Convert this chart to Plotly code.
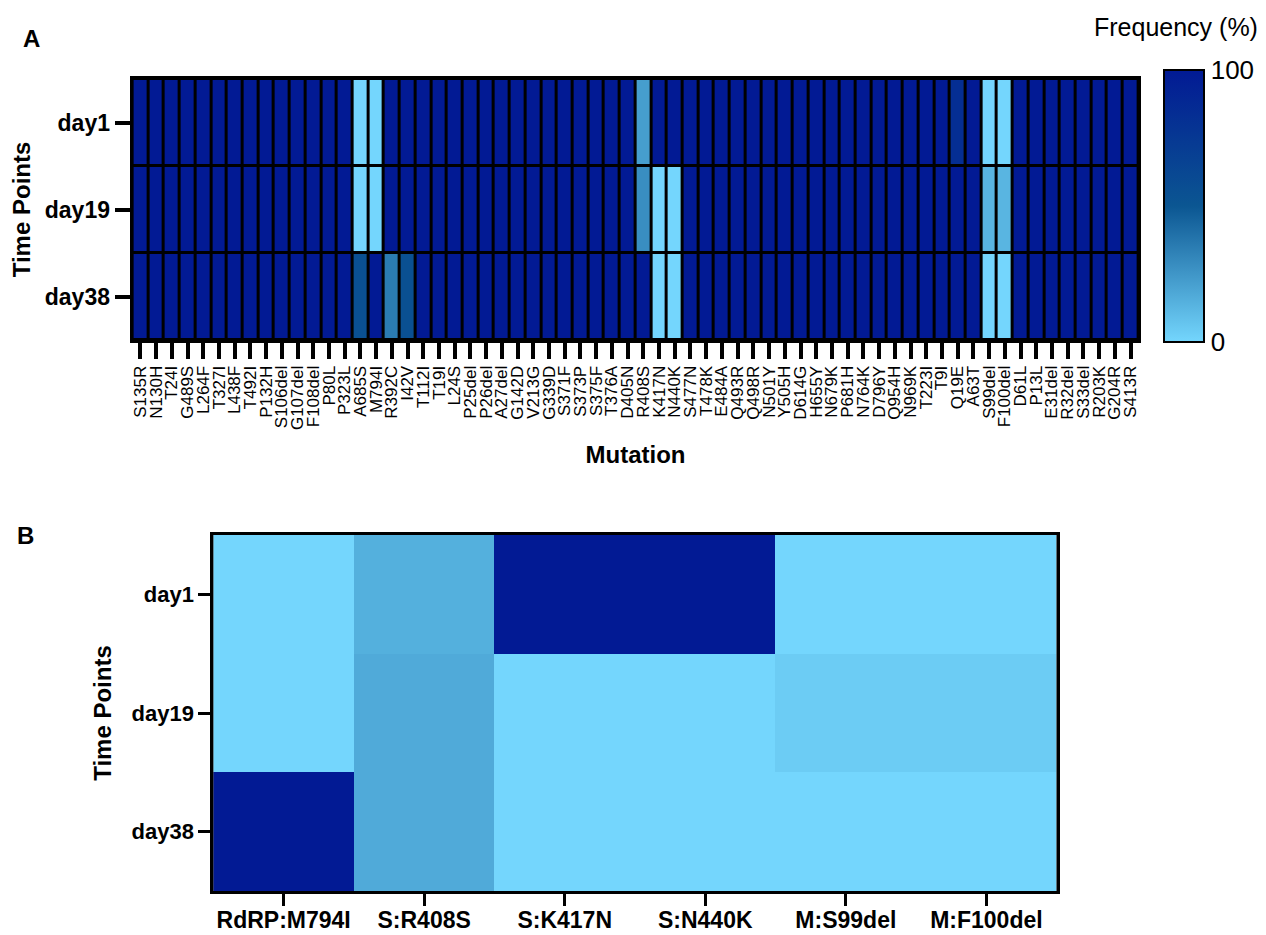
import plotly.graph_objects as go

# ---------------- Panel A data ----------------
mutations = [
    "S135R", "N130H", "T24I", "G489S", "L264F", "T327I", "L438F", "T492I", "P132H",
    "S106del", "G107del", "F108del", "P80L", "P323L", "A685S", "M794I", "R392C", "I42V",
    "T112I", "T19I", "L24S", "P25del", "P26del", "A27del", "G142D", "V213G", "G339D",
    "S371F", "S373P", "S375F", "T376A", "D405N", "R408S", "K417N", "N440K", "S477N",
    "T478K", "E484A", "Q493R", "Q498R", "N501Y", "Y505H", "D614G", "H655Y", "N679K",
    "P681H", "N764K", "D796Y", "Q954H", "N969K", "T223I", "T9I", "Q19E", "A63T",
    "S99del", "F100del", "D61L", "P13L", "E31del", "R32del", "S33del", "R203K", "G204R", "S413R",
]
days = ["day1", "day19", "day38"]

freq_day1 = [
    100, 100, 100, 100, 100, 100, 100, 100, 100,
    100, 100, 100, 100, 100, 0, 0, 100, 100,
    100, 100, 100, 100, 100, 100, 100, 100, 100,
    100, 100, 100, 100, 100, 22, 100, 100, 100,
    100, 100, 100, 100, 100, 100, 100, 100, 100,
    100, 100, 100, 100, 100, 100, 100, 83, 100,
    0, 0, 100, 100, 100, 100, 100, 100, 100, 100,
]
freq_day19 = [
    100, 100, 100, 100, 100, 100, 100, 100, 100,
    100, 100, 100, 100, 100, 0, 0, 100, 100,
    100, 100, 100, 100, 100, 100, 100, 100, 100,
    100, 100, 100, 100, 100, 28, 0, 0, 100,
    100, 100, 100, 100, 100, 100, 100, 100, 100,
    100, 100, 100, 100, 100, 100, 100, 100, 100,
    13, 13, 100, 100, 100, 100, 100, 100, 100, 100,
]
freq_day38 = [
    100, 100, 100, 100, 100, 100, 100, 100, 100,
    100, 100, 100, 100, 100, 55, 100, 35, 55,
    100, 100, 100, 100, 100, 100, 100, 100, 100,
    100, 100, 100, 100, 100, 100, 0, 0, 100,
    100, 100, 100, 100, 100, 100, 100, 100, 100,
    100, 100, 100, 100, 100, 100, 100, 100, 100,
    0, 0, 100, 100, 100, 100, 100, 100, 100, 100,
]

# ---------------- Panel B data ----------------
b_mutations = ["RdRP:M794I", "S:R408S", "S:K417N", "S:N440K", "M:S99del", "M:F100del"]
b_day1 = [0, 15, 100, 100, 0, 0]
b_day19 = [0, 17, 0, 0, 4, 4]
b_day38 = [100, 17, 0, 0, 0, 0]

colorscale = [[0.0, "#74d6fd"], [0.5, "#0b5692"], [1.0, "#021a94"]]

W, H = 1266, 935
FONT = "Arial, Liberation Sans, Helvetica, sans-serif"


def px_x(x):
    return x / W


def px_y(y):
    return 1 - y / H


fig = go.Figure()

fig.add_trace(go.Heatmap(
    x=mutations, y=days, z=[freq_day1, freq_day19, freq_day38],
    zmin=0, zmax=100, colorscale=colorscale, xgap=3, ygap=3,
    xaxis="x", yaxis="y",
    colorbar=dict(
        thickness=40, thicknessmode="pixels",
        len=272, lenmode="pixels",
        x=px_x(1166), xanchor="left", xpad=0,
        y=px_y(206), yanchor="middle", ypad=0,
        outlinewidth=2, outlinecolor="black",
        tickvals=[0, 100], ticktext=["0", "100"], ticks="",
        tickfont=dict(size=26, color="black", family=FONT),
    ),
))

fig.add_trace(go.Heatmap(
    x=b_mutations, y=days, z=[b_day1, b_day19, b_day38],
    zmin=0, zmax=100, colorscale=colorscale, showscale=False,
    xaxis="x2", yaxis="y2",
))

common_axis = dict(showline=True, mirror=True, linecolor="black", linewidth=3,
                   showgrid=False, zeroline=False, ticks="outside", tickcolor="black")

fig.update_layout(
    width=W, height=H,
    margin=dict(l=0, r=0, t=0, b=0),
    paper_bgcolor="white", plot_bgcolor="black",
    font=dict(family=FONT, color="black"),
    xaxis=dict(
        **common_axis, domain=[px_x(131), px_x(1140)], anchor="y",
        tickmode="array", tickvals=mutations, ticklen=16, tickwidth=4,
        tickangle=-90, tickfont=dict(size=17, family=FONT),
        title=dict(text="<b>Mutation</b>", font=dict(size=24), standoff=18),
    ),
    yaxis=dict(
        **common_axis, domain=[px_y(340), px_y(79)], anchor="x",
        autorange="reversed", ticklen=15, tickwidth=4,
        tickfont=dict(size=23, family=FONT, weight="bold"),
        title=dict(text="<b>Time Points</b>", font=dict(size=24), standoff=8),
    ),
    xaxis2=dict(
        **common_axis, domain=[px_x(212), px_x(1058)], anchor="y2",
        ticklen=12, tickwidth=3, ticklabelstandoff=-6,
        tickfont=dict(size=23, family=FONT, weight="bold"),
    ),
    yaxis2=dict(
        **common_axis, domain=[px_y(891), px_y(535)], anchor="x2",
        autorange="reversed", ticklen=12, tickwidth=3,
        tickfont=dict(size=22, family=FONT, weight="bold"),
        title=dict(text="<b>Time Points</b>", font=dict(size=24), standoff=14),
    ),
    annotations=[
        dict(text="<b>A</b>", x=px_x(30), y=px_y(38), xref="paper", yref="paper",
             showarrow=False, font=dict(size=24), xanchor="center", yanchor="middle"),
        dict(text="<b>B</b>", x=px_x(24), y=px_y(535), xref="paper", yref="paper",
             showarrow=False, font=dict(size=24), xanchor="center", yanchor="middle"),
        dict(text="Frequency (%)", x=px_x(1178), y=px_y(27), xref="paper", yref="paper",
             showarrow=False, font=dict(size=25), xanchor="center", yanchor="middle"),
    ],
)

fig.write_html("out.html")
